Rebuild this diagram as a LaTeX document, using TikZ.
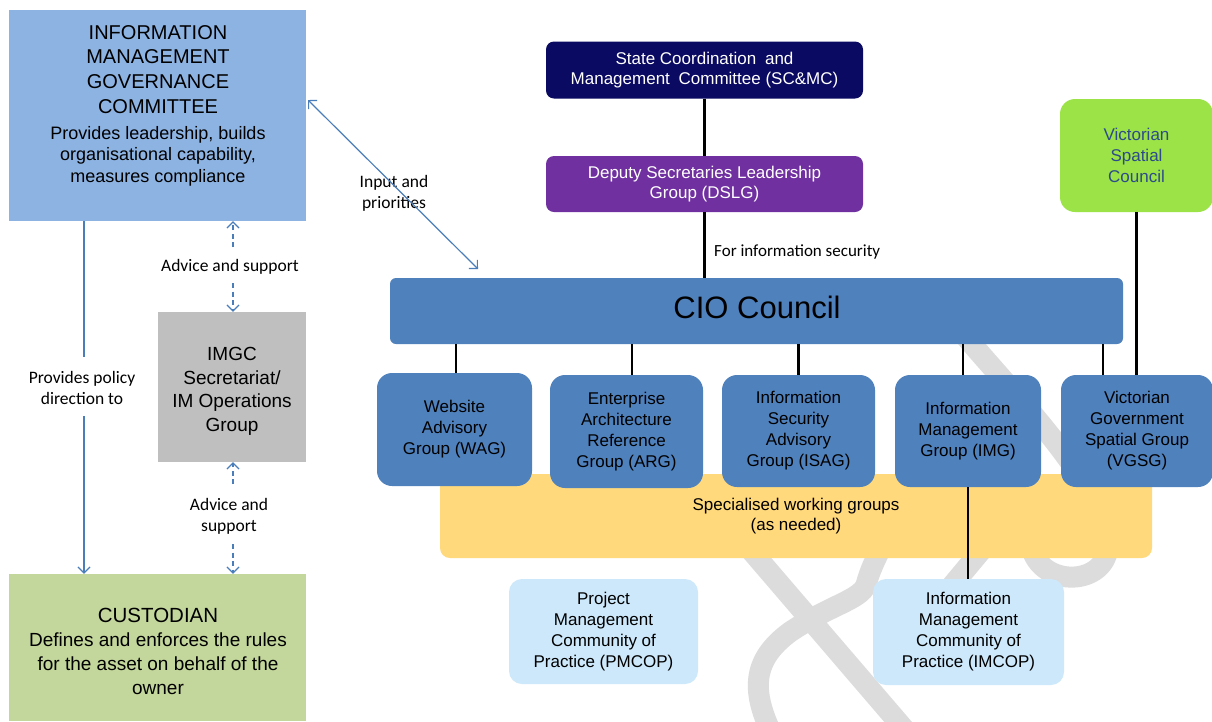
\documentclass[tikz,border=0pt]{standalone}
\usepackage{fontspec}
\setmainfont{Liberation Sans}
\newfontfamily\calib{Carlito}
\usetikzlibrary{arrows.meta,calc}
\definecolor{imgcblue}{HTML}{8DB3E2}
\definecolor{greybox}{HTML}{BFBFBF}
\definecolor{custgreen}{HTML}{C3D69B}
\definecolor{navybox}{HTML}{0A0A62}
\definecolor{dslgpurple}{HTML}{7030A0}
\definecolor{cioblue}{HTML}{4F81BD}
\definecolor{swgyellow}{HTML}{FFD97C}
\definecolor{copblue}{HTML}{CCE8FA}
\definecolor{vscgreen}{HTML}{9BE346}
\definecolor{vsctext}{HTML}{2C4A8C}
\definecolor{arrowblue}{HTML}{4A7EBB}
\definecolor{wmgrey}{HTML}{DCDCDC}
\begin{document}
\begin{tikzpicture}[x=1pt,y=-1pt,
  box/.style={rectangle, inner sep=0pt, align=center},
  grp/.style={box, fill=cioblue, rounded corners=15pt, font=\fontsize{17}{21}\selectfont},
  cop/.style={box, fill=copblue, rounded corners=13pt, font=\fontsize{17}{21}\selectfont},
  conn/.style={line width=2.2pt, black},
  bline/.style={line width=1.2pt, arrowblue},
  dline/.style={bline, dash pattern=on 5pt off 3.5pt},
  arrowend/.style={-{Straight Barb[length=6pt,width=12pt,line width=1.2pt]}},
  lab/.style={inner sep=0pt, align=center, font=\calib\fontsize{17.5}{21}\selectfont},
  wm/.style={line width=21pt, wmgrey}
]
\useasboundingbox (0,0) rectangle (1212,721);
\fill[white] (0,0) rectangle (1212,721);

% watermark
\draw[wm] (960,330) .. controls (1010,390) and (1100,480) .. (1108,540)
  .. controls (1112,585) and (1045,590) .. (1032,550) -- (1025,520);
\draw[wm] (712,505) -- (905,730);
\draw[wm] (770,730) .. controls (752,690) and (752,660) .. (790,632)
  .. controls (830,605) and (860,600) .. (866,585) .. controls (870,570) and (875,560) .. (885,540);
\draw[wm] (990,540) -- (940,600);

% left column
\node[box, fill=imgcblue, minimum width=297pt, minimum height=211pt] (IMGC) at (157.5,115.5) {};
\node[box, anchor=north, font=\fontsize{20}{24.7}\selectfont] (IMGCtitle) at (158,25)
  {INFORMATION\\MANAGEMENT\\GOVERNANCE\\COMMITTEE};
\node[box, anchor=north, font=\fontsize{18}{21.5}\selectfont] (IMGCdesc) at (158,126)
  {Provides leadership, builds\\organisational capability,\\measures compliance};

\node[box, fill=greybox, minimum width=148pt, minimum height=150pt] (GREY) at (232,387) {};
\node[box, anchor=north, font=\fontsize{19}{23.7}\selectfont] (GREYtext) at (232,347)
  {IMGC\\Secretariat/\\IM Operations\\Group};

\node[box, fill=custgreen, minimum width=297pt, minimum height=147pt] (CUST) at (157.5,647.5) {};
\node[box, anchor=north, font=\fontsize{20.5}{24}\selectfont] (CUSTtitle) at (158,608) {CUSTODIAN};
\node[box, anchor=north, font=\fontsize{19}{24}\selectfont] (CUSTdesc) at (158,633)
  {Defines and enforces the rules\\for the asset on behalf of the\\owner};

% left arrows
\node[lab] (pol) at (82,388) {Provides policy\\direction to};
\coordinate (p1) at (84,357);
\coordinate (p2) at (84,416);
\draw[bline] (IMGC.south -| p1) -- (p1);
\draw[bline, arrowend] (p2) -- (CUST.north -| p2);

\node[lab] (adv1) at (230,267) {Advice and support};
\coordinate (d1a) at (233,247);
\coordinate (d1b) at (233,283);
\draw[dline, arrowend] (d1a) -- (IMGC.south -| d1a);
\draw[dline, arrowend] (d1b) -- (GREY.north -| d1b);

\node[lab] (adv2) at (229,516) {Advice and\\support};
\coordinate (d2a) at (233,484);
\coordinate (d2b) at (233,544);
\draw[dline, arrowend] (d2a) -- (GREY.south -| d2a);
\draw[dline, arrowend] (d2b) -- (CUST.north -| d2b);

\node[lab] (inp) at (394,193) {Input and\\priorities};
\coordinate (inA) at (308,100);
\coordinate (inB) at (478,269);
\draw[bline, {Straight Barb[length=6pt,width=12pt,line width=1.2pt]}-{Straight Barb[length=6pt,width=12pt,line width=1.2pt]}] (inA) -- (inB);

% right column
\node[box, fill=navybox, text=white, rounded corners=8pt, minimum width=317pt, minimum height=57pt,
  font=\fontsize{17}{20}\selectfont] (SCMC) at (704.5,70)
  {State Coordination\hspace{4pt} and\\Management\hspace{4pt} Committee (SC\&MC)};
\node[box, fill=dslgpurple, text=white, rounded corners=8pt, minimum width=317pt, minimum height=56pt,
  font=\fontsize{17}{20}\selectfont] (DSLG) at (704.5,184)
  {Deputy Secretaries Leadership\\Group (DSLG)};
\node[box, fill=cioblue, rounded corners=6pt, minimum width=733pt, minimum height=66pt] (CIO) at (756.5,311) {};
\node[box, anchor=base, font=\fontsize{31}{36}\selectfont] (CIOtext) at (757,318.5) {CIO Council};
\node[anchor=base west, inner sep=0pt, font=\calib\fontsize{17}{20}\selectfont] (fis) at (714,256) {For information security};

\draw[conn] (SCMC.south) -- (DSLG.north);
\draw[conn] (DSLG.south) -- (DSLG.south |- CIO.north);

\node[box, fill=vscgreen, text=vsctext, rounded corners=15pt, minimum width=153pt, minimum height=113pt,
  font=\fontsize{17}{21}\selectfont] (VSC) at (1136.5,155.5) {Victorian\\Spatial\\Council};

\node[box, fill=swgyellow, rounded corners=10pt, minimum width=712pt, minimum height=84pt,
  font=\fontsize{17}{20.5}\selectfont] (SWG) at (796,516) {Specialised working groups\\(as needed)};

\node[grp, minimum width=155pt, minimum height=113pt] (WAG) at (454.5,429.5) {Website\\Advisory\\Group (WAG)};
\node[grp, minimum width=153pt, minimum height=113pt] (ARG) at (626.5,431.5) {Enterprise\\Architecture\\Reference\\Group (ARG)};
\node[grp, minimum width=153pt, minimum height=112pt] (ISAG) at (798.5,431) {Information\\Security\\Advisory\\Group (ISAG)};
\node[grp, minimum width=146pt, minimum height=112pt] (IMG) at (968,431) {Information\\Management\\Group (IMG)};
\node[grp, minimum width=152pt, minimum height=112pt] (VGSG) at (1137,431) {Victorian\\Government\\Spatial Group\\(VGSG)};

\node[cop, minimum width=189pt, minimum height=105pt] (PMCOP) at (603.5,631.5) {Project\\Management\\Community of\\Practice (PMCOP)};
\node[cop, minimum width=191pt, minimum height=106pt] (IMCOP) at (968.5,632) {Information\\Management\\Community of\\Practice (IMCOP)};

\draw[conn] ($(WAG.north)+(1.5,0)$) -- ($(WAG.north |- CIO.south)+(1.5,0)$);
\draw[conn] ($(ARG.north)+(5.5,0)$) -- ($(ARG.north |- CIO.south)+(5.5,0)$);
\draw[conn] (ISAG.north) -- (ISAG.north |- CIO.south);
\draw[conn] ($(IMG.north)+(-5,0)$) -- ($(IMG.north |- CIO.south)+(-5,0)$);
\draw[conn] ($(VGSG.north)+(-34,0)$) -- ($(VGSG.north |- CIO.south)+(-34,0)$);
\draw[conn] (VSC.south) -- (VSC.south |- VGSG.north);
\draw[conn] (IMG.south) -- (IMG.south |- IMCOP.north);
\end{tikzpicture}
\end{document}
